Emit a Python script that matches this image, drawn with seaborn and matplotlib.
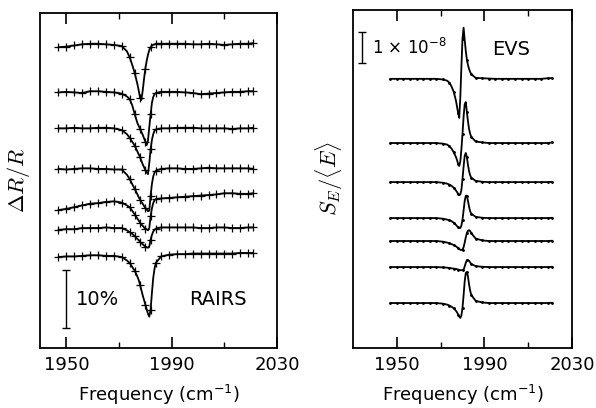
import numpy as np
import pandas as pd
import matplotlib
matplotlib.use("Agg")
import matplotlib.pyplot as plt
import seaborn as sns

# ---------------- data ----------------
FREQ = [1947, 1950, 1953, 1956, 1959, 1962, 1965, 1968, 1971, 1973, 1974, 1975,
        1976, 1977, 1977.5, 1978, 1978.5, 1979, 1979.5, 1980, 1980.5, 1981,
        1981.5, 1982, 1982.5, 1983, 1983.5, 1984, 1986, 1989, 1992, 1995, 1998,
        2001, 2004, 2007, 2010, 2013, 2016, 2019, 2021]

# RAIRS: Delta R / R (%) relative to each trace's baseline
RAIRS_1 = [-0.5, -0.4, -0.2, 0.0, 0.1, 0.1, 0.0, -0.1, -0.3,
           -1.2, -2.2, -3.5, -5.0, -6.9, -8.0, -9.2, -9.6, -8.0, -6.0, -4.2, -2.9,
           -1.8, -1.0, -0.5, -0.2, -0.1, 0.0, 0.1,
           0.1, 0.1, 0.1, 0.1, 0.0, 0.0, 0.1, 0.0, -0.1, 0.0, 0.1, 0.1, 0.2]
RAIRS_2 = [0.0, 0.1, 0.0, -0.1, 0.2, 0.2, 0.1, 0.0, -0.2,
           -0.7, -1.1, -2.2, -3.8, -5.3, -5.8, -6.3, -6.8, -7.3, -7.9, -8.5, -9.1,
           -8.3, -6.0, -3.8, -1.8, -0.8, -0.3, -0.1,
           0.1, 0.1, 0.1, 0.0, -0.1, -0.3, -0.2, -0.1, 0.0, 0.1, 0.1, 0.2, 0.2]
RAIRS_3 = [0.0, 0.0, 0.1, 0.0, 0.0, 0.1, 0.1, 0.0, -0.3,
           -1.0, -1.6, -2.3, -3.0, -4.0, -4.5, -5.0, -5.6, -6.2, -6.7, -7.2, -7.6,
           -7.9, -6.0, -3.6, -2.0, -1.0, -0.4, -0.2,
           0.0, 0.0, 0.1, 0.1, 0.1, 0.0, 0.0, 0.0, 0.0, -0.1, 0.0, 0.0, 0.1]
RAIRS_4 = [0.0, -0.1, 0.0, 0.1, 0.1, 0.0, 0.0, -0.1, -0.1,
           -1.0, -1.7, -2.6, -3.5, -4.4, -4.9, -5.3, -5.7, -6.0, -6.4, -6.7, -7.0,
           -7.3, -7.2, -4.6, -2.6, -1.3, -0.6, -0.3,
           0.0, 0.1, 0.1, 0.0, 0.0, 0.1, 0.2, 0.1, 0.1, 0.1, 0.1, 0.1, 0.0]
RAIRS_5 = [-1.7, -1.5, -1.2, -0.9, -0.6, -0.5, -0.3, -0.2, -0.4,
           -0.9, -1.2, -1.8, -2.5, -3.2, -3.5, -3.9, -4.2, -4.4, -4.7, -4.9, -5.0,
           -5.2, -4.8, -2.8, -1.4, -0.5, 0.0, 0.2,
           0.3, 0.4, 0.5, 0.6, 0.7, 0.8, 0.9, 1.0, 1.2, 1.2, 1.1, 1.1, 1.2]
RAIRS_6 = [-0.3, -0.2, -0.2, 0.0, 0.0, 0.0, 0.1, 0.0, 0.0,
           -0.4, -0.7, -1.0, -1.4, -1.9, -2.1, -2.4, -2.6, -2.8, -3.0, -3.2, -3.3,
           -3.4, -3.2, -2.0, -1.2, -0.6, -0.3, -0.1,
           0.1, 0.1, 0.1, 0.1, 0.1, 0.0, 0.0, 0.1, 0.1, 0.0, 0.0, 0.1, 0.1]
RAIRS_7 = [-0.2, -0.1, -0.1, 0.0, 0.1, 0.1, 0.0, 0.0, -0.2,
           -0.8, -1.2, -1.9, -2.6, -3.6, -4.2, -5.0, -5.9, -6.8, -7.6, -8.4, -9.2,
           -10.0, -10.5, -9.3, -6.4, -3.8, -2.2, -1.2,
           -0.1, 0.2, 0.3, 0.3, 0.4, 0.4, 0.4, 0.4, 0.4, 0.4, 0.5, 0.5, 0.5]
RAIRS_OFFSETS = [52.4, 44.1, 37.9, 30.9, 25.5, 20.7, 15.9]   # baselines (%)

# EVS: S_E/<E> (units of 1e-8) relative to each trace's baseline
EVS_1 = [0, 0, 0, 0, 0, 0, 0, 0, -0.02,
         -0.06, -0.12, -0.25, -0.42, -0.70, -0.90, -1.10, -1.26, -0.60, 0.40, 1.30, 1.65,
         1.25, 0.90, 0.62, 0.45, 0.32, 0.22, 0.15,
         0.03, 0.02, 0.01, 0, 0, 0, 0, 0, 0, 0, 0, 0.02, 0.02]
EVS_2 = [0, 0, 0, 0, 0, 0, 0, 0, -0.02,
         -0.05, -0.10, -0.18, -0.30, -0.45, -0.55, -0.67, -0.74, -0.60, -0.20, 0.30, 0.85,
         1.25, 1.32, 1.00, 0.70, 0.45, 0.30, 0.20,
         0.05, 0.02, 0, 0, 0, 0, 0, 0, 0, 0, 0, 0, 0.02]
EVS_3 = [0, 0, 0, 0, 0, 0, 0, 0, -0.02,
         -0.05, -0.08, -0.12, -0.18, -0.27, -0.32, -0.38, -0.42, -0.40, -0.25, 0.10, 0.50,
         0.85, 0.94, 0.80, 0.55, 0.35, 0.22, 0.14,
         0.04, 0.01, 0, 0, 0, 0, 0, 0, 0, 0, 0, 0, 0.01]
EVS_4 = [0, 0, 0, 0, 0, 0, 0, 0, -0.02,
         -0.05, -0.07, -0.10, -0.15, -0.22, -0.26, -0.30, -0.32, -0.32, -0.24, -0.05, 0.25,
         0.55, 0.72, 0.72, 0.55, 0.36, 0.22, 0.14,
         0.04, 0.01, 0, 0, 0, 0, 0, 0, 0, 0, 0, 0, 0.01]
EVS_5 = [0, 0, 0, 0, 0, 0, 0, 0, -0.02,
         -0.05, -0.07, -0.10, -0.13, -0.17, -0.20, -0.23, -0.26, -0.28, -0.29, -0.28, -0.20,
         -0.05, 0.12, 0.26, 0.33, 0.35, 0.32, 0.25,
         0.08, 0.02, 0, 0, 0, 0, 0, 0, 0, 0, 0, 0, 0.01]
EVS_6 = [0, 0, 0, 0, 0, 0, 0, 0, -0.01,
         -0.02, -0.03, -0.04, -0.05, -0.06, -0.07, -0.08, -0.09, -0.10, -0.10, -0.10, -0.08,
         0.02, 0.14, 0.22, 0.23, 0.20, 0.15, 0.10,
         0.03, 0.01, 0, 0, 0, 0, 0, 0, 0, 0, 0, 0, 0.01]
EVS_7 = [0, 0, 0, 0, 0, 0, 0, 0, -0.02,
         -0.05, -0.08, -0.12, -0.17, -0.25, -0.30, -0.37, -0.44, -0.48, -0.40, -0.15, 0.25,
         0.70, 0.97, 1.00, 0.85, 0.60, 0.40, 0.26,
         0.07, 0.02, 0, 0, 0, 0, 0, 0, 0, 0, 0, 0, 0.01]
EVS_OFFSETS = [8.68, 6.61, 5.35, 4.19, 3.45, 2.61, 1.45]   # baselines (1e-8)

XTICKS = [1950, 1990, 2030]
XMINOR = [1970, 2010]
XLABEL = "Frequency (cm$^{-1}$)"

RAIRS = [RAIRS_1, RAIRS_2, RAIRS_3, RAIRS_4, RAIRS_5, RAIRS_6, RAIRS_7]
EVS = [EVS_1, EVS_2, EVS_3, EVS_4, EVS_5, EVS_6, EVS_7]


def long_frame(series, offsets):
    rows = []
    for k, (vals, off) in enumerate(zip(series, offsets)):
        for f, v in zip(FREQ, vals):
            rows.append({"freq": f, "y": v + off, "trace": k})
    return pd.DataFrame(rows)


df_r = long_frame(RAIRS, RAIRS_OFFSETS)
df_e = long_frame(EVS, EVS_OFFSETS)

# data-point markers only on the coarser sampling (about every 2-3 cm^-1)
MARK_AT = [i for i, f in enumerate(FREQ)
           if f < 1972 or f > 1985 or (float(f).is_integer() and int(f) % 2 == 0)]

# ---------------- style ----------------
sns.set_theme(style="ticks")
plt.rcParams["font.family"] = ["DejaVu Sans"]
plt.rcParams["mathtext.fontset"] = "dejavusans"
plt.rcParams["text.color"] = "black"
plt.rcParams["axes.labelcolor"] = "black"
plt.rcParams["xtick.color"] = "black"
plt.rcParams["xtick.labelcolor"] = "black"

W, H = 596, 408
fig = plt.figure(figsize=(W / 100, H / 100), dpi=100)
ax1 = fig.add_axes([40 / W, 1 - 348 / H, 237 / W, 335 / H])
ax2 = fig.add_axes([353 / W, 1 - 348 / H, 219 / W, 338 / H])

for k in range(7):
    sub = df_r[df_r["trace"] == k]
    sns.lineplot(data=sub, x="freq", y="y", ax=ax1, color="black", lw=1.3,
                 marker="+", markersize=5.5, markeredgewidth=0.9,
                 markeredgecolor="black", markerfacecolor="black",
                 markevery=MARK_AT, legend=False)
    sub = df_e[df_e["trace"] == k]
    sns.lineplot(data=sub, x="freq", y="y", ax=ax2, color="black", lw=1.3,
                 marker=".", markersize=2.5, markeredgecolor="black",
                 markerfacecolor="black", markevery=MARK_AT, legend=False)

ax1.set_xlim(1940, 2030)
ax1.set_ylim(0, 57.8)
ax2.set_xlim(1930, 2030)
ax2.set_ylim(0, 10.9)

for ax in (ax1, ax2):
    ax.set_xticks(XTICKS)
    ax.set_xticks(XMINOR, minor=True)
    ax.set_yticks([])
    ax.tick_params(axis="x", which="major", direction="in", length=8, width=1.2,
                   top=True, labelsize=13, pad=6, colors="black")
    ax.tick_params(axis="x", which="minor", direction="in", length=4, width=1.0,
                   top=True, colors="black")
    for s in ax.spines.values():
        s.set_linewidth(1.3)
        s.set_color("black")
    ax.set_xlabel(XLABEL, fontsize=13, labelpad=6, color="black")

ax1.set_ylabel(r"$\Delta R/R$", fontsize=16, labelpad=6, math_fontfamily="cm",
               color="black")
ax2.set_ylabel(r"$S_E/\langle E\rangle$", fontsize=16, labelpad=6,
               math_fontfamily="cm", color="black")

# scale bars and labels
ax1.errorbar([1950], [8.4], yerr=[[5.0], [5.0]], color="black", lw=1.0,
             capsize=3, capthick=1.0)
ax1.text(1953.5, 8.3, "10%", fontsize=14, va="center", ha="left", color="black")
ax1.text(2007.5, 8.3, "RAIRS", fontsize=14, va="center", ha="center", color="black")

ax2.errorbar([1934], [9.69], yerr=[[0.5], [0.5]], color="black", lw=1.0,
             capsize=3, capthick=1.0)
ax2.text(1938.5, 9.68, r"1 $\times$ 10$^{-8}$", fontsize=12, va="center",
         ha="left", color="black")
ax2.text(2002, 9.62, "EVS", fontsize=14, va="center", ha="center", color="black")

fig.savefig("out.png", dpi=100)
